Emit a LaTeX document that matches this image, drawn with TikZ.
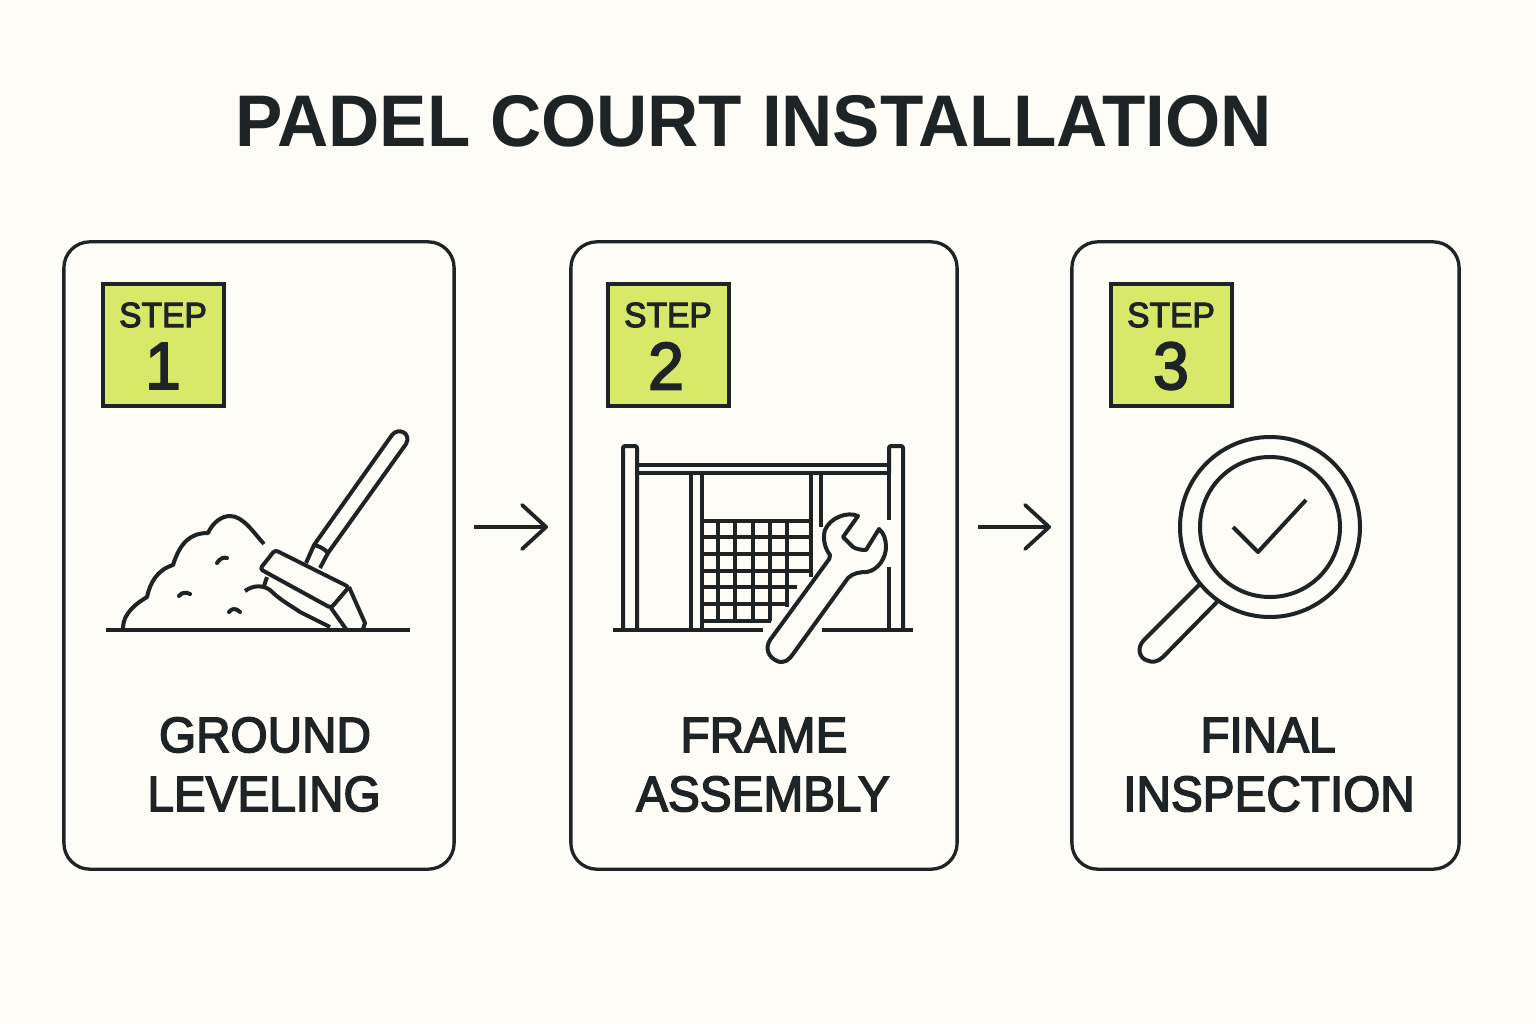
\documentclass[tikz,border=0pt]{standalone}
\usepackage{fontspec}
\setmainfont{Liberation Sans}
\newfontfamily\titlefont[FakeStretch=0.97]{Liberation Sans Bold}
\newfontfamily\medfont[FakeBold=3, FakeStretch=0.955]{Liberation Sans}
\usetikzlibrary{arrows.meta}
\definecolor{paper}{HTML}{FDFCF7}
\definecolor{ink}{HTML}{1E2326}
\definecolor{lime}{HTML}{D8E868}
\tikzset{
	cardbox/.style={draw=ink, line width=0.33mm, rounded corners=0.26cm, minimum height=6.27cm, inner sep=0pt},
	badge/.style={draw=ink, fill=lime, line width=0.4mm, minimum width=1.21cm, minimum height=1.22cm, inner sep=0pt},
	steptext/.style={text=ink, font=\medfont\fontsize{10}{12}\selectfont, inner sep=0pt},
	numtext/.style={text=ink, font=\medfont\fontsize{19}{22}\selectfont, inner sep=0pt},
	labeltext/.style={text=ink, font=\medfont\fontsize{14.2}{17}\selectfont, inner sep=0pt},
	icon/.style={draw=ink, line width=0.4mm, line join=round},
	flow/.style={draw=ink, line width=0.33mm, -{Straight Barb[length=2.4mm,width=4.4mm,line width=0.38mm,round]}}
}
\begin{document}
\begin{tikzpicture}[x=0.01cm, y=-0.01cm]
	%%%%% START %%%%%
	\useasboundingbox (0, 0) rectangle (1536, 1024);
	\fill[paper] (0, 0) rectangle (1536, 1024);

	\node[text=ink, font=\titlefont\fontsize{20.8}{25}\selectfont, inner sep=0pt] (title) at (753.5, 121) {PADEL COURT INSTALLATION};

	\node[cardbox, minimum width=3.9cm] (cardone) at (259, 555.5) {};
	\node[cardbox, minimum width=3.86cm] (cardtwo) at (764, 555.5) {};
	\node[cardbox, minimum width=3.87cm] (cardthree) at (1265.5, 555.5) {};

	\node[badge] (badgeone) at (163.5, 345) {};
	\node[badge] (badgetwo) at (668.5, 345) {};
	\node[badge] (badgethree) at (1171.5, 345) {};

	\node[steptext] (stepone) at (163, 315) {STEP};
	\node[numtext] (numone) at (163, 366) {1};
	\node[steptext] (steptwo) at (668, 315) {STEP};
	\node[numtext] (numtwo) at (666, 366) {2};
	\node[steptext] (stepthree) at (1171, 315) {STEP};
	\node[numtext] (numthree) at (1171, 366) {3};

	\node[labeltext] (groundlabel) at (265, 735) {GROUND};
	\node[labeltext] (levellabel) at (264, 794) {LEVELING};
	\node[labeltext] (framelabel) at (764, 735) {FRAME};
	\node[labeltext] (assemblylabel) at (763, 794) {ASSEMBLY};
	\node[labeltext] (finallabel) at (1268, 735) {FINAL};
	\node[labeltext] (inspectlabel) at (1269, 794) {INSPECTION};

	\coordinate (arrowoneS) at (474, 527);
	\coordinate (arrowoneE) at (548, 527);
	\coordinate (arrowtwoS) at (978, 527);
	\coordinate (arrowtwoE) at (1051, 527);
	\draw[flow] (arrowoneS) -- (arrowoneE);
	\draw[flow] (arrowtwoS) -- (arrowtwoE);

	% shovel and heap
	\draw[icon] (106, 630) -- (410, 630);
	\draw[icon] (123, 628) .. controls (123, 613) and (137, 603) .. (147, 597)
		.. controls (150, 583) and (157, 570) .. (173, 565)
		.. controls (180, 543) and (190, 533) .. (208, 533)
		.. controls (213, 522) and (222, 516) .. (230, 516)
		.. controls (243, 516) and (253, 532) .. (264, 544);
	\draw[icon] (245, 591) .. controls (253, 585) and (263, 585) .. (270, 590)
		.. controls (280, 600) and (290, 605) .. (300, 612) -- (330, 627);
	\draw[icon, line cap=round] (217, 563) .. controls (220, 558) and (224, 557) .. (227, 558);
	\draw[icon, line cap=round] (179, 596) .. controls (182, 592) and (186, 592) .. (190, 594);
	\draw[icon, line cap=round] (229, 612) .. controls (232, 608) and (236, 608) .. (240, 612);
	\draw[icon, rounded corners=0.03cm] (275, 550) -- (349, 587) -- (331, 608) -- (260, 569) -- cycle;
	\draw[icon] (349, 587) -- (365, 623) -- (363, 629);
	\draw[icon] (331, 608) -- (346, 629);
	\draw[icon] (267, 577) -- (264, 586);
	\draw[icon] (306, 563) -- (314, 545) -- (392, 435) .. controls (398, 427) and (412, 433) .. (406, 444) -- (328, 553) -- (320, 568);
	\draw[icon] (314, 545) .. controls (319, 546) and (325, 549) .. (328, 553);

	% frame and net
	\draw[icon] (613, 630) -- (763, 630);
	\draw[icon] (822, 630) -- (913, 630);
	\draw[icon, rounded corners=0.02cm] (623, 630) -- (623, 446) -- (637, 446) -- (637, 630);
	\draw[icon, rounded corners=0.02cm] (889, 473) -- (889, 446) -- (903, 446) -- (903, 630);
	\draw[icon] (889, 473) -- (889, 520);
	\draw[icon] (889, 567) -- (889, 630);
	\draw[icon] (637, 465) -- (889, 465);
	\draw[icon] (637, 473) -- (889, 473);
	\draw[icon] (691, 473) -- (691, 630);
	\draw[icon] (702, 473) -- (702, 630);
	\draw[icon] (811, 473) -- (811, 577);
	\draw[icon] (821, 473) -- (821, 527);
	\foreach \yy/\xx in {521/811, 537/811, 554/811, 571/811, 587/797, 604/787, 621/771}
		\draw[icon] (702, \yy) -- (\xx, \yy);
	\foreach \xx/\yy in {718/621, 735/621, 753/621, 770/621, 787/607}
		\draw[icon] (\xx, 521) -- (\xx, \yy);
	\draw[icon, fill=paper] (858, 516) .. controls (847, 511) and (830, 518) .. (825, 530)
		.. controls (822, 540) and (826, 550) .. (830, 555)
		.. controls (830, 558) and (829, 560) .. (827, 562)
		-- (770, 640) .. controls (765, 648) and (768, 657) .. (777, 661)
		.. controls (784, 664) and (789, 660) .. (793, 654)
		-- (848, 578) .. controls (853, 573) and (860, 572) .. (867, 572)
		.. controls (878, 570) and (886, 558) .. (886, 547)
		.. controls (886, 540) and (884, 533) .. (879, 529)
		-- (866, 550) .. controls (861, 550) and (856, 549) .. (853, 547)
		-- (843, 537) -- cycle;

	% magnifier
	\draw[icon] (1270, 527) circle (90);
	\draw[icon] (1270, 527) circle (70);
	\draw[icon] (1233, 527) -- (1258, 552) -- (1306, 500);
	\draw[icon] (1199, 585) -- (1144, 640) .. controls (1136, 648) and (1140, 658) .. (1146, 660)
		.. controls (1152, 663) and (1158, 662) .. (1163, 657) -- (1217, 602);
	%%%%% END %%%%%
\end{tikzpicture}
\end{document}
